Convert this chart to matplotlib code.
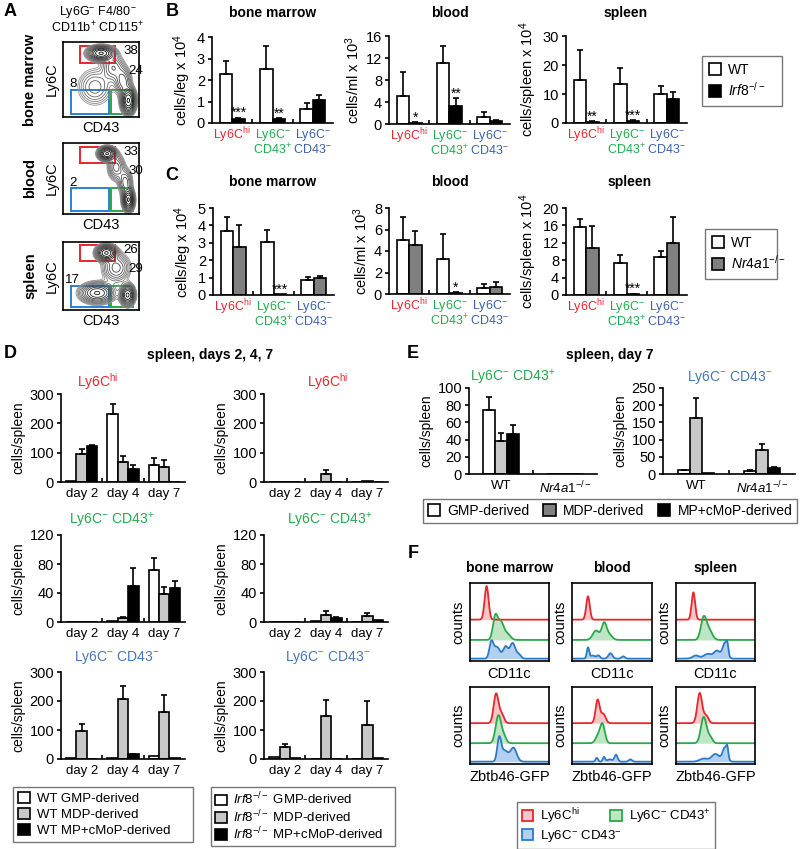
import numpy as np
import matplotlib
matplotlib.use('Agg')
import matplotlib.pyplot as plt
from matplotlib.patches import Patch, Rectangle

plt.rcParams['font.family'] = ['Liberation Sans', 'DejaVu Sans']
plt.rcParams['mathtext.fontset'] = 'custom'
plt.rcParams['mathtext.rm'] = 'Liberation Sans'
plt.rcParams['mathtext.it'] = 'Liberation Sans:italic'
plt.rcParams['mathtext.bf'] = 'Liberation Sans:bold'
plt.rcParams['font.size'] = 10
plt.rcParams['axes.linewidth'] = 1.2

RED = '#e8262d'
GREEN = '#22aa4e'
BLUE = '#3d62a6'
LBLUE = '#4676bd'
LGRAY = '#c8c8c8'
DGRAY = '#808080'

HI = r'Ly6C$^{\mathrm{hi}}$'
NEG = r'Ly6C$^{-}$'
P43 = r'CD43$^{+}$'
N43 = r'CD43$^{-}$'
IRF8 = r'$\mathit{Irf8}^{-/-}$'
NR4A1 = r'$\mathit{Nr4a1}^{-/-}$'

# ---------------- data ----------------
# panel A: gate percentages (Ly6Chi, CD43+, CD43-) and population blobs (x, y, sx, sy, weight)
a_tissues = ['bone marrow', 'blood', 'spleen']
a_pct = [[38, 24, 8], [33, 30, 2], [26, 29, 17]]
a_pops_bm = [(50, 85, 9, 5, 1.0), (66, 66, 8, 10, 0.25), (79, 48, 6, 10, 0.3),
             (86, 22, 5, 9, 1.0), (42, 40, 13, 14, 0.18)]
a_pops_bl = [(58, 85, 6, 5, 1.0), (70, 66, 6, 10, 0.3), (82, 45, 5, 10, 0.3),
             (86, 20, 4, 8, 1.0), (62, 24, 6, 5, 0.04)]
a_pops_sp = [(57, 84, 7, 6, 1.0), (70, 62, 10, 12, 0.3), (45, 25, 12, 8, 0.6),
             (85, 22, 5, 8, 0.8)]

# panel B: WT vs Irf8-/-  (Ly6Chi, Ly6C- CD43+, Ly6C- CD43-)
b_bm_wt, b_bm_wt_err = [2.3, 2.5, 0.65], [0.6, 1.1, 0.3]
b_bm_ko, b_bm_ko_err = [0.2, 0.17, 1.05], [0.05, 0.04, 0.25]
b_bm_stars = ['***', '**', '']
b_bl_wt, b_bl_wt_err = [5.1, 11.1, 1.3], [4.3, 3.1, 0.8]
b_bl_ko, b_bl_ko_err = [0.25, 3.2, 0.6], [0.05, 1.5, 0.1]
b_bl_stars = ['*', '**', '']
b_sp_wt, b_sp_wt_err = [14.8, 13.3, 10.0], [10.3, 5.8, 2.9]
b_sp_ko, b_sp_ko_err = [0.5, 0.8, 8.3], [0.1, 0.1, 2.4]
b_sp_stars = ['**', '***', '']

# panel C: WT vs Nr4a1-/-
c_bm_wt, c_bm_wt_err = [3.66, 3.05, 0.88], [0.8, 0.67, 0.15]
c_bm_ko, c_bm_ko_err = [2.73, 0.03, 0.98], [1.28, 0.0, 0.1]
c_bm_stars = ['', '***', '']
c_bl_wt, c_bl_wt_err = [5.0, 3.3, 0.6], [2.2, 2.3, 0.35]
c_bl_ko, c_bl_ko_err = [4.6, 0.1, 0.65], [1.3, 0.05, 0.45]
c_bl_stars = ['', '*', '']
c_sp_wt, c_sp_wt_err = [15.6, 7.4, 8.8], [1.8, 1.7, 1.4]
c_sp_ko, c_sp_ko_err = [10.8, 0.2, 12.0], [5.0, 0.1, 5.9]
c_sp_stars = ['', '***', '']

# panel D: cells/spleen at day 2, 4, 7 ; rows = GMP, MDP, MP+cMoP
d_days = ['day 2', 'day 4', 'day 7']
d_wt_hi = [[3, 231, 58], [97, 67, 50], [122, 44, 1]]
d_wt_hi_err = [[0, 35, 23], [16, 20, 25], [5, 15, 0]]
d_ko_hi = [[0, 1, 0], [1, 26, 2], [0, 1, 0]]
d_ko_hi_err = [[0, 0, 0], [0, 15, 0], [0, 0, 0]]
d_wt_pos = [[0, 2, 72], [0, 6, 38], [0, 50, 47]]
d_wt_pos_err = [[0, 0, 16], [0, 1, 10], [0, 24, 10]]
d_ko_pos = [[0, 2, 0], [0, 10, 8], [0, 6, 3]]
d_ko_pos_err = [[0, 0, 0], [0, 5, 5], [0, 1, 0]]
d_wt_neg = [[2, 3, 10], [98, 206, 163], [1, 16, 2]]
d_wt_neg_err = [[0, 0, 0], [23, 47, 57], [0, 2, 0]]
d_ko_neg = [[6, 1, 0], [43, 148, 116], [5, 1, 4]]
d_ko_neg_err = [[0, 0, 0], [9, 54, 85], [0, 0, 0]]

# panel E: spleen day 7, groups WT / Nr4a1-/- ; rows = GMP, MDP, MP+cMoP
e_groups = ['WT', NR4A1]
e_pos = [[74, 0], [38, 0], [47, 0]]
e_pos_err = [[15, 0], [10, 0], [10, 0]]
e_neg = [[11, 10], [162, 70], [3, 16]]
e_neg_err = [[2, 2], [58, 17], [0, 3]]

# panel F: histogram peaks (centre, width, height) for Ly6Chi / CD43+ / CD43-
f_cd11c = [
    [[(0.21, 0.025, 0.43)],
     [(0.32, 0.03, 0.30), (0.39, 0.035, 0.22), (0.47, 0.04, 0.08)],
     [(0.27, 0.025, 0.2), (0.34, 0.04, 0.15), (0.45, 0.03, 0.15), (0.54, 0.035, 0.2), (0.62, 0.025, 0.05)]],
    [[(0.20, 0.022, 0.30)],
     [(0.30, 0.04, 0.12), (0.40, 0.03, 0.2), (0.46, 0.04, 0.07)],
     [(0.20, 0.015, 0.14), (0.26, 0.03, 0.04), (0.33, 0.02, 0.04), (0.48, 0.025, 0.07), (0.64, 0.02, 0.03)]],
    [[(0.22, 0.022, 0.35)],
     [(0.35, 0.035, 0.28), (0.42, 0.04, 0.12)],
     [(0.25, 0.04, 0.04), (0.40, 0.05, 0.06), (0.52, 0.04, 0.1), (0.62, 0.03, 0.2), (0.65, 0.012, 0.1)]],
]
f_zbtb46 = [
    [[(0.33, 0.03, 0.38), (0.40, 0.03, 0.12)],
     [(0.36, 0.035, 0.36), (0.43, 0.03, 0.08)],
     [(0.37, 0.025, 0.3), (0.44, 0.04, 0.14), (0.55, 0.04, 0.18)]],
    [[(0.32, 0.025, 0.3), (0.39, 0.03, 0.12)],
     [(0.38, 0.03, 0.25), (0.32, 0.03, 0.08)],
     [(0.31, 0.015, 0.05), (0.40, 0.015, 0.06), (0.55, 0.02, 0.09), (0.47, 0.03, 0.03), (0.73, 0.02, 0.03)]],
    [[(0.30, 0.03, 0.39), (0.38, 0.03, 0.1)],
     [(0.35, 0.035, 0.34), (0.43, 0.03, 0.08)],
     [(0.35, 0.05, 0.04), (0.50, 0.05, 0.1), (0.62, 0.03, 0.18), (0.65, 0.012, 0.1)]],
]
f_bases = [0.53, 0.27, 0.03]

# ---------------- layout helpers ----------------
W, H = 800, 849
fig = plt.figure(figsize=(W / 100, H / 100), dpi=100)


def add_ax(x0, y0, x1, y1):
    return fig.add_axes([x0 / W, 1 - y1 / H, (x1 - x0) / W, (y1 - y0) / H])


def ftext(x, y, s, **kw):
    kw.setdefault('ha', 'center')
    kw.setdefault('va', 'center')
    fig.text(x / W, 1 - y / H, s, **kw)


def up_err(ax, xs, vals, errs):
    for xi, v, e in zip(xs, vals, errs):
        if e > 0:
            ax.errorbar(xi, v, yerr=[[0], [e]], fmt='none', ecolor='black',
                        elinewidth=1.2, capsize=2.5, capthick=1.2, zorder=3)


def clean(ax):
    ax.spines['top'].set_visible(False)
    ax.spines['right'].set_visible(False)
    ax.tick_params(axis='y', direction='out', length=3, width=1.2, pad=2, labelsize=10.5)
    ax.set_facecolor('none')


def fig_legend(handles, labels, box, ncol=1, fontsize=10, **kw):
    x0, y0, x1, y1 = box
    leg = fig.legend(handles, labels, loc='upper left', ncol=ncol, mode='expand',
                     bbox_to_anchor=(x0 / W, 1 - y1 / H, (x1 - x0) / W, (y1 - y0) / H),
                     bbox_transform=fig.transFigure, fancybox=False, edgecolor='#555555',
                     handlelength=0.9, handleheight=0.9, handletextpad=0.5,
                     borderaxespad=0, fontsize=fontsize, **kw)
    leg.get_frame().set_linewidth(1.0)
    return leg


# ---------------- panel A ----------------
ftext(10, 12, 'A', fontsize=13, fontweight='bold')
ftext(98, 12, r'Ly6G$^{-}$ F4/80$^{-}$', fontsize=9)
ftext(98, 28, r'CD11b$^{+}$ CD115$^{+}$', fontsize=9)
a_boxes = [(63, 42, 139, 117), (63, 143, 139, 214), (63, 242, 139, 310)]
gx, gy = np.meshgrid(np.linspace(0, 100, 200), np.linspace(0, 100, 200))
for box, pops, name, pct in zip(a_boxes, [a_pops_bm, a_pops_bl, a_pops_sp], a_tissues, a_pct):
    ax = add_ax(*box)
    dens = sum(w * np.exp(-0.5 * (((gx - cx) / sx) ** 2 + ((gy - cy) / sy) ** 2))
               for cx, cy, sx, sy, w in pops)
    levels = dens.max() * np.geomspace(0.04, 0.95, 13)
    greys = plt.cm.Greys(np.linspace(0.5, 1.0, len(levels)))
    ax.contour(gx, gy, dens, levels=levels, colors=greys, linewidths=0.6)
    ax.add_patch(Rectangle((22, 72), 46, 23, fill=False, ec='#e8262d', lw=1.4))
    ax.add_patch(Rectangle((10.5, 4), 50, 32, fill=False, ec='#2a80d0', lw=1.4))
    ax.add_patch(Rectangle((63, 4), 29, 32, fill=False, ec='#2aa84a', lw=1.4))
    ax.text(80, 88, str(pct[0]), fontsize=9.5, va='center')
    ax.text(86, 61, str(pct[1]), fontsize=9.5, va='center')
    ax.text(13, 44, str(pct[2]), fontsize=9.5, va='center', ha='center')
    ax.set_xlim(0, 100)
    ax.set_ylim(0, 100)
    ax.set_xticks([])
    ax.set_yticks([])
    ax.set_xlabel('CD43', fontsize=10.5, labelpad=3)
    ax.set_ylabel('Ly6C', fontsize=10.5, labelpad=3)
    cy = (box[1] + box[3]) / 2
    ftext(30, cy, name, rotation=90, fontsize=10.5, fontweight='bold')


# ---------------- panels B and C ----------------
def bar_panel(box, wt, wt_err, ko, ko_err, stars, ymax, step, ylabel, ko_color):
    ax = add_ax(*box)
    x = np.arange(3)
    w = 0.31
    ax.bar(x - w / 2, wt, w, color='white', edgecolor='black', lw=1.2, zorder=2)
    ax.bar(x + w / 2, ko, w, color=ko_color, edgecolor='black', lw=1.2, zorder=2)
    up_err(ax, x - w / 2, wt, wt_err)
    up_err(ax, x + w / 2, ko, ko_err)
    for xi, v, e, s in zip(x + w / 2, ko, ko_err, stars):
        if s:
            ax.annotate(s, (xi, v + e), xytext=(0, 0.5), textcoords='offset points',
                        ha='center', va='baseline', fontsize=10)
    ax.set_xlim(-0.5, 2.5)
    ax.set_ylim(0, ymax)
    ax.set_yticks(np.arange(0, ymax + step / 2, step))
    ax.set_xticks([])
    ax.set_xticks([0.5, 1.5], minor=True)
    ax.tick_params(axis='x', which='minor', direction='in', length=3, width=1.2)
    clean(ax)
    ax.set_ylabel(ylabel, fontsize=10.5, labelpad=3)
    cats = [[(HI, RED)], [(NEG, GREEN), (P43, GREEN)], [(NEG, BLUE), (N43, BLUE)]]
    for i, lines in enumerate(cats):
        for j, (t, c) in enumerate(lines):
            ax.annotate(t, (i, 0), xycoords=ax.get_xaxis_transform(),
                        xytext=(0, -8.5 - 10.5 * j), textcoords='offset points',
                        ha='center', va='center', color=c, fontsize=9)
    return ax


ftext(172, 11, 'B', fontsize=13, fontweight='bold')
for cx, t in zip([273, 450, 626], ['bone marrow', 'blood', 'spleen']):
    ftext(cx, 13, t, fontsize=10, fontweight='bold')
bar_panel((212, 37, 333, 123), b_bm_wt, b_bm_wt_err, b_bm_ko, b_bm_ko_err, b_bm_stars,
          4, 1, r'cells/leg x 10$^{4}$', 'black')
bar_panel((389, 36, 510, 124), b_bl_wt, b_bl_wt_err, b_bl_ko, b_bl_ko_err, b_bl_stars,
          16, 4, r'cells/ml x 10$^{3}$', 'black')
bar_panel((566, 36, 687, 123), b_sp_wt, b_sp_wt_err, b_sp_ko, b_sp_ko_err, b_sp_stars,
          30, 10, r'cells/spleen x 10$^{4}$', 'black')
fig_legend([Patch(fc='white', ec='black', lw=1.2), Patch(fc='black', ec='black', lw=1.2)],
           ['WT', IRF8], (702, 56, 782, 99), labelspacing=0.3, borderpad=0.5)

ftext(172, 175, 'C', fontsize=13, fontweight='bold')
for cx, t in zip([273, 450, 630], ['bone marrow', 'blood', 'spleen']):
    ftext(cx, 182, t, fontsize=10, fontweight='bold')
bar_panel((213, 208, 334, 295), c_bm_wt, c_bm_wt_err, c_bm_ko, c_bm_ko_err, c_bm_stars,
          5, 1, r'cells/leg x 10$^{4}$', DGRAY)
bar_panel((389, 208, 510, 294), c_bl_wt, c_bl_wt_err, c_bl_ko, c_bl_ko_err, c_bl_stars,
          8, 2, r'cells/ml x 10$^{3}$', DGRAY)
bar_panel((566, 208, 687, 295), c_sp_wt, c_sp_wt_err, c_sp_ko, c_sp_ko_err, c_sp_stars,
          20, 4, r'cells/spleen x 10$^{4}$', DGRAY)
fig_legend([Patch(fc='white', ec='black', lw=1.2), Patch(fc=DGRAY, ec='black', lw=1.2)],
           ['WT', NR4A1], (705, 229, 777, 269), labelspacing=0.3, borderpad=0.5)

# ---------------- panels D and E ----------------
SRC_COLORS = ['white', LGRAY, 'black']


def group_panel(box, series, errs, ymax, step, labels, w, ylabel='cells/spleen'):
    ax = add_ax(*box)
    n = len(labels)
    x = np.arange(n)
    for k, (vals, ee, col) in enumerate(zip(series, errs, SRC_COLORS)):
        xs = x + (k - 1) * w
        ax.bar(xs, vals, w, color=col, edgecolor='black', lw=1.2, zorder=2)
        up_err(ax, xs, vals, ee)
    ax.set_xlim(-0.5, n - 0.5)
    ax.set_ylim(0, ymax)
    ax.set_yticks(np.arange(0, ymax + step / 2, step))
    ax.set_xticks(x)
    ax.set_xticklabels(labels, fontsize=9.5)
    ax.tick_params(axis='x', which='major', length=0, pad=4)
    ax.set_xticks(np.arange(n - 1) + 0.5, minor=True)
    ax.tick_params(axis='x', which='minor', direction='in', length=3, width=1.2)
    clean(ax)
    ax.set_ylabel(ylabel, fontsize=10, labelpad=3)
    return ax


ftext(10, 353, 'D', fontsize=13, fontweight='bold')
ftext(210, 355, 'spleen, days 2, 4, 7', fontsize=10, fontweight='bold')
ftext(98, 382, HI, color=RED, fontsize=10)
ftext(328, 382, HI, color=RED, fontsize=10)
ftext(112, 521, NEG + ' ' + P43, color=GREEN, fontsize=10)
ftext(330, 521, NEG + ' ' + P43, color=GREEN, fontsize=10)
ftext(117, 657, NEG + ' ' + N43, color=LBLUE, fontsize=10)
ftext(328, 657, NEG + ' ' + N43, color=LBLUE, fontsize=10)
group_panel((61, 394, 185, 482), d_wt_hi, d_wt_hi_err, 300, 100, d_days, 0.25)
group_panel((264, 394, 388, 482), d_ko_hi, d_ko_hi_err, 300, 100, d_days, 0.25)
group_panel((61, 535, 185, 622), d_wt_pos, d_wt_pos_err, 120, 40, d_days, 0.25)
group_panel((264, 535, 388, 622), d_ko_pos, d_ko_pos_err, 120, 40, d_days, 0.25)
group_panel((61, 672, 185, 759), d_wt_neg, d_wt_neg_err, 300, 100, d_days, 0.25)
group_panel((264, 672, 388, 759), d_ko_neg, d_ko_neg_err, 300, 100, d_days, 0.25)

src_handles = [Patch(fc=c, ec='black', lw=1.2) for c in SRC_COLORS]
fig_legend(src_handles, ['WT GMP-derived', 'WT MDP-derived', 'WT MP+cMoP-derived'],
           (13, 787, 193, 848), fontsize=9.5, labelspacing=0.2, borderpad=0.4)
fig_legend(src_handles, [IRF8 + ' GMP-derived', IRF8 + ' MDP-derived', IRF8 + ' MP+cMoP-derived'],
           (211, 787, 395, 848), fontsize=9.5, labelspacing=0.05, borderpad=0.3)

ftext(413, 353, 'E', fontsize=13, fontweight='bold')
ftext(610, 355, 'spleen, day 7', fontsize=10, fontweight='bold')
ftext(513, 377, NEG + ' ' + P43, color=GREEN, fontsize=10)
ftext(730, 377, NEG + ' ' + N43, color=LBLUE, fontsize=10)
group_panel((469, 388, 597, 474), e_pos, e_pos_err, 100, 20, e_groups, 0.19)
group_panel((663, 388, 795, 474), e_neg, e_neg_err, 250, 50, e_groups, 0.18)
e_handles = [Patch(fc='white', ec='black', lw=1.2), Patch(fc=DGRAY, ec='black', lw=1.2),
             Patch(fc='black', ec='black', lw=1.2)]
fig_legend(e_handles, ['GMP-derived', 'MDP-derived', 'MP+cMoP-derived'],
           (423, 499, 797, 523), ncol=3, borderpad=0.35, columnspacing=1.0)

# ---------------- panel F ----------------
ftext(413, 553, 'F', fontsize=13, fontweight='bold')
f_cols = [(470, 549), (572, 652), (676, 755)]
f_rows = [(583, 661, 'CD11c', f_cd11c), (687, 764, 'Zbtb46-GFP', f_zbtb46)]
f_line = [RED, '#2aa84a', '#2a7ac8']
f_fill = ['#f7c6c6', '#bfe6c4', '#b4d0f0']
for (x0, x1), t in zip(f_cols, ['bone marrow', 'blood', 'spleen']):
    ftext((x0 + x1) / 2, 568, t, fontsize=10, fontweight='bold')
hx = np.linspace(0, 1, 400)
for y0, y1, marker, data in f_rows:
    for (x0, x1), pops in zip(f_cols, data):
        ax = add_ax(x0, y0, x1, y1)
        for base, peaks, lc, fc in zip(f_bases, pops, f_line, f_fill):
            curve = base + sum(h * np.exp(-0.5 * ((hx - c) / s) ** 2) for c, s, h in peaks)
            ax.fill_between(hx, base, curve, color=fc, lw=0)
            ax.plot(hx, curve, color=lc, lw=1.3)
        ax.set_xlim(0, 1)
        ax.set_ylim(0, 1)
        ax.set_xticks([])
        ax.set_yticks([])
        ax.set_xlabel(marker, fontsize=10.5, labelpad=4)
        ax.set_ylabel('counts', fontsize=10.5, labelpad=3)

f_handles = [Patch(fc=f_fill[0], ec=f_line[0], lw=1.3), Patch(fc=f_fill[2], ec=f_line[2], lw=1.3),
             Patch(fc=f_fill[1], ec=f_line[1], lw=1.3)]
fig_legend(f_handles, [HI, NEG + ' ' + N43, NEG + ' ' + P43], (517, 802, 715, 848),
           ncol=2, fontsize=9.5, labelspacing=0.15, borderpad=0.35, columnspacing=1.2)

fig.savefig('out.png', dpi=100)
